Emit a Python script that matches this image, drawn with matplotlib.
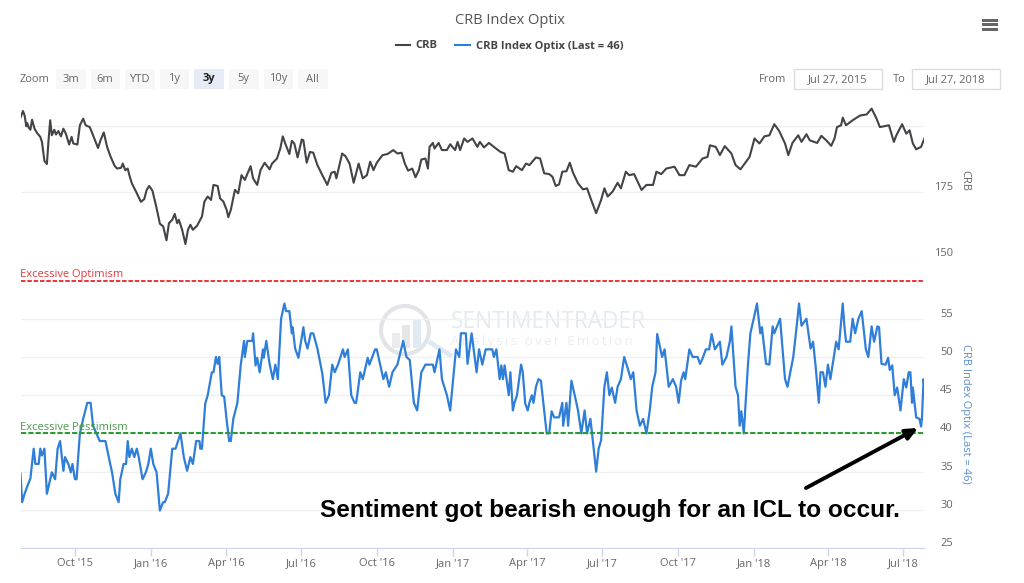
import numpy as np
import matplotlib
matplotlib.use('Agg')
import matplotlib.pyplot as plt
import matplotlib.dates as mdates
from matplotlib.patches import Rectangle, Circle
from matplotlib.transforms import ScaledTranslation
plt.rcParams["font.family"] = ["Open Sans", "DejaVu Sans"]

# days since the first date of the chart
start_date = np.datetime64('2015-07-27')

crb_days = [0, 3, 5, 7, 8, 10, 12, 14, 17, 20, 24, 26, 29, 32, 34, 36, 38, 41, 43, 46, 49, 52, 55, 59, 62, 64, 69, 72, 76, 79,
            84, 88, 94, 97, 101, 105, 109, 114, 117, 122, 124, 127, 130, 132, 135, 140, 146, 150, 153, 156, 160, 165, 169, 173, 177, 180, 184, 187, 190, 192,
            196, 200, 203, 206, 209, 214, 220, 223, 227, 231, 234, 239, 242, 246, 250, 252, 255, 260, 264, 268, 272, 279, 282, 287, 291, 296, 302, 305, 311, 315,
            318, 321, 326, 329, 332, 336, 341, 343, 347, 351, 355, 360, 366, 372, 377, 381, 383, 390, 394, 399, 404, 410, 415, 420, 424, 428, 432, 439, 445, 452,
            457, 462, 466, 470, 475, 479, 483, 486, 491, 494, 496, 500, 502, 507, 511, 517, 521, 527, 530, 533, 538, 542, 548, 554, 557, 562, 568, 574, 582, 587,
            592, 597,
            601, 608, 613, 617, 625, 630, 635, 641, 645, 649, 653, 657, 662, 666, 670, 676, 682, 687, 692, 698, 704, 708, 712, 718, 724, 728, 734, 738, 744, 753,
            759, 767, 771, 777, 783, 793, 799, 805, 811, 819, 827, 833, 836, 843, 848, 854, 862, 867, 873, 884, 890, 896, 902, 908, 914, 920, 927, 931, 936, 943,
            947, 953, 957, 966, 971, 977, 983, 987, 990, 995, 997, 1001, 1009, 1018, 1026, 1032, 1038, 1042, 1053, 1059, 1062, 1069, 1074, 1078, 1082, 1086, 1092, 1096]
crb_vals = [203.3, 205.8, 204.1, 200, 201.3, 199.5, 198.7, 202.5, 199.1, 197.5, 196, 194.1, 186.9, 185.7, 194.7, 202.3, 196.6, 198.7, 196.9, 198.2, 196.2, 199.1, 197.2, 193.1, 196, 193.5, 193.1, 200.4, 202.9, 200.4,
            199.7, 196.6, 191.8, 194.7, 197.7, 192.2, 188.7, 185.1, 184, 184.3, 185.9, 183.4, 184, 181.5, 178.4, 175.3, 171.4, 172.4, 175.9, 177.4, 175.6, 169, 163.1, 162.1, 156.8, 163.3, 164.6, 166.8, 163.3, 164.6,
            160.8, 155.4, 160.8, 162.7, 160.8, 162.3, 165.8, 171.5, 173.4, 172.1, 177.8, 177.4, 172.7, 171.5, 168.3, 165.6, 168.3, 175.9, 174.6, 181.5, 179.7, 184.9, 180.3, 177.8, 183.4, 186.2, 183.7, 185.9, 187.8, 191.6,
            196.2, 193.5, 189.5, 194.5, 193.5, 188.2, 195, 194.7, 186.2, 190.3, 190, 185.3, 181.5, 177.8, 182.4, 182.8, 180.3, 189.7, 188.7, 185.9, 178.6, 185.9, 180.3, 181.5, 186.6, 183.4, 186.2, 189.1, 189.5, 191,
            189.7, 190, 185.9, 183.2, 184, 180.7, 183.4, 187.4, 187.8, 184, 192.2, 193.7, 191.6, 193.7, 191, 191, 193.2, 191, 194.1, 191, 195.4, 194.1, 195.4, 192.2, 194.1, 192, 193.7, 192.2, 190.3, 189.7,
            183.4, 182.8,
            184.9, 183.4, 185.9, 185.3, 188.2, 187.8, 182.2, 181.9, 180.9, 177.4, 178, 182.8, 183, 186.2, 182.4, 178.4, 176.1, 176.5, 172.1, 167.1, 172.1, 176.5, 173.4, 175.3, 178.6, 176.5, 182.8, 181.5, 181.9, 175.9,
            177.8, 177.8, 182.8, 181.9, 184, 184.7, 181.5, 181.5, 185.3, 184.7, 187.8, 188.4, 192.8, 192.2, 189.1, 192.5, 189.7, 185.3, 183.7, 188.4, 195.4, 193.5, 196.2, 196.6, 200.8, 198.2, 193.5, 189.1, 193.7, 196.6,
            194.1, 197, 194.7, 193.7, 196.4, 194.7, 192.6, 195.4, 199.7, 200.4, 203.3, 200.4, 202.3, 204.1, 204.5, 206.7, 202.9, 199.7, 200.4, 194.1, 196.6, 200.8, 197.2, 198.5, 193.5, 191.3, 192.2, 195.4]

optix_days = [0, 2, 5, 8, 12, 16, 18, 22, 24, 26, 29, 32, 34, 36, 38, 42, 45, 48, 52, 54, 58, 61, 63, 66, 68, 72, 76, 81, 85, 88,
              96, 103, 107, 111, 115, 119, 121, 125, 128, 130, 132, 135, 138, 141, 143, 148, 152, 155, 158, 161, 165, 169, 173, 175, 179, 184, 188, 194, 198, 202,
              206, 209, 213, 217, 218, 220, 224, 227, 232, 234, 237, 239, 241, 244, 247, 250, 253, 255, 258, 263, 267, 271, 272, 275, 281, 282, 285, 287, 290, 294,
              295, 298, 302, 306, 309, 312, 316, 320, 322, 326, 329, 330, 333, 337, 343, 345, 348, 352, 355, 360, 366, 370, 374, 378, 381, 385, 388, 391, 393, 397,
              401, 405, 407, 412, 415, 421, 423, 430, 432, 440, 443, 447, 451, 457, 464, 468, 472, 477, 481, 483, 486, 491, 500, 502, 508, 511, 517, 521, 528, 532,
              534, 540, 542, 547, 553, 556, 560, 564, 572, 574, 577, 581, 583, 585, 587, 592, 594, 597,
              599, 602, 607, 609, 612, 615, 617, 620, 622, 625, 628, 631, 635, 638, 641, 644, 647, 653, 657, 658, 662, 664, 668, 672, 676, 680, 684, 687, 691, 693,
              698, 701, 704, 708, 711, 714, 717, 721, 724, 728, 732, 736, 740, 743, 747, 751, 755, 759, 763, 766, 770, 772, 778, 781, 786, 791, 795, 798, 801, 804,
              806, 811, 815, 821, 824, 827, 831, 835, 838, 842, 848, 851, 856, 860, 862, 867, 870, 872, 874, 877, 882, 885, 889, 893, 897, 899, 904, 908, 912, 914,
              917, 921, 927, 930, 937, 941, 944, 947, 953, 958, 961, 964, 968, 970, 973, 976, 979, 982, 989, 992, 997, 999, 1001, 1006, 1009, 1012, 1016, 1020, 1025, 1028,
              1032, 1035, 1039, 1041, 1044, 1049, 1052, 1054, 1057, 1060, 1063, 1067, 1071, 1074, 1077, 1079, 1081, 1082, 1086, 1090, 1092, 1093, 1095, 1096]
optix_vals = [34.7, 31, 32.1, 33, 34.1, 38, 36, 36, 38, 37.1, 38, 32.1, 33, 34, 34.9, 34, 38, 39, 35.1, 36.9, 36, 34.9, 36, 34, 34, 40, 41.9, 44, 44, 41,
              39, 39, 36.9, 34.9, 32.1, 31, 34, 36, 36, 39, 36.9, 38, 36.9, 38, 37.1, 34, 34.9, 36, 38, 36, 34.9, 29.9, 31, 31, 32.1, 38, 38, 40, 36.9, 35.1,
              36.9, 36, 39, 39, 38, 38, 43.9, 45, 48, 48, 50, 49.1, 50, 45, 44.8, 41.7, 39, 39, 41.9, 44, 48.9, 52.1, 50, 52.1, 52.1, 53.1, 48.9, 49.9, 48, 51,
              49.9, 52.1, 49.1, 47.1, 49, 47.1, 55, 57, 56, 56, 53.1, 53.9, 51.1, 49.9, 53.9, 52.2, 51.1, 53.1, 53.1, 51.1, 47.8, 44, 45, 49, 48, 49, 50, 51, 50, 51,
              45, 44, 44, 48, 47.1, 49.9, 49, 51, 51, 47.1, 48, 46.1, 48, 49, 52.1, 50, 49.6, 44, 43, 45, 48, 49, 49, 48, 51, 47.1, 45, 43, 51, 50,
              53.1, 53.1, 49.1, 53.1, 48, 51, 49, 51, 51, 50, 51, 47.1, 48.9, 47.1, 48.9, 45, 48, 43,
              44, 45, 49, 48, 43.9, 43, 44, 45, 44, 46.1, 47.1, 46.9, 43, 40, 40, 42.9, 42.1, 42.1, 44, 41, 44, 41, 46.9, 45, 43, 40, 43, 40, 41.9, 40,
              35, 38, 39.1, 46.1, 48, 45, 46, 44, 46.1, 47.1, 50, 48.6, 47.1, 48, 43, 41, 41.9, 40, 43, 46.1, 48, 53, 50, 51, 46.1, 47.1, 46.1, 44, 46.9, 48,
              47.1, 51, 50, 50, 49.1, 49.8, 51, 51, 53, 51, 52, 49, 50, 52, 54, 46.1, 45, 41, 42.9, 40, 48.9, 53.1, 55, 57, 53.1, 53.9, 49.1, 49, 54, 53.1,
              53.9, 55, 47.1, 46.1, 50, 53.9, 57, 54.1, 55, 51.1, 52, 48.9, 44, 48, 48, 46.1, 49, 47.1, 52, 51, 57, 54, 52, 52, 55, 53.1, 55, 56, 51, 50,
              54, 52, 54, 53.9, 49.1, 49, 49.9, 48.3, 48.9, 45, 46, 43, 47.1, 46, 48, 48, 44, 46, 42.1, 41.9, 40.9, 41.9, 47.1, 46.1]

tick_dates = ['2015-10-01', '2016-01-01', '2016-04-01', '2016-07-01', '2016-10-01', '2017-01-01',
              '2017-04-01', '2017-07-01', '2017-10-01', '2018-01-01', '2018-04-01', '2018-07-01']
crb_ticks = [150, 175, 200]
crb_tick_labels = ['150', '175', '']
optix_ticks = [25, 30, 35, 40, 45, 50, 55]
zoom_buttons = ['3m', '6m', 'YTD', '1y', '3y', '5y', '10y', 'All']
optimism_level = 60
pessimism_level = 40

W, H = 1024, 583
TEXT = '#666666'
GRID = '#f0f0f0'
AXIS = '#ccd6eb'
DARK = '#434348'
BLUE = '#2f7ed8'


def px_axes(fig, left, top, right, bottom):
    return fig.add_axes([left/W, 1-bottom/H, (right-left)/W, (bottom-top)/H])


def to_dates(days):
    return start_date + np.array(days).astype('timedelta64[D]')


def style_right_axis(fig, ax, ticks, labels=None):
    ax.set_yticks(ticks)
    if labels is not None:
        ax.set_yticklabels(labels)
    ax.yaxis.tick_right()
    ax.tick_params(axis='y', length=0, pad=20.6, labelsize=8, labelcolor=TEXT)
    down = ScaledTranslation(0, -1/100, fig.dpi_scale_trans)
    for lab in ax.get_yticklabels():
        lab.set_ha('right')
        lab.set_va('bottom')
        lab.set_transform(lab.get_transform() + down)
    ax.grid(axis='y', color=GRID, lw=1)
    ax.set_axisbelow(True)
    ax.patch.set_alpha(0)
    for s in ax.spines.values():
        s.set_visible(False)


def draw_chrome(ax):
    ax.text(510, 21, 'CRB Index Optix', ha='center', va='center', fontsize=10.5, color='#555555')
    ax.plot([396, 410], [45, 45], color=DARK, lw=1.5)
    ax.text(415, 46, 'CRB', va='center', fontsize=8, weight='bold', color='#444444')
    ax.plot([455, 470], [45, 45], color=BLUE, lw=1.5)
    ax.text(476, 46, 'CRB Index Optix (Last = 46)', va='center', fontsize=8, weight='bold', color='#444444')

    ax.text(20, 79.5, 'Zoom', va='center', fontsize=8, color=TEXT)
    for i, name in enumerate(zoom_buttons):
        x0 = 56 + i*34.6
        active = name == '3y'
        ax.add_patch(Rectangle((x0, 69), 29.5, 20, fc='#e6ebf5' if active else '#f7f7f7', ec='none'))
        ax.text(x0+14.5, 79, name, ha='center', va='center', fontsize=8,
                color='#222222' if active else TEXT, weight='bold' if active else 'normal')

    ax.text(759, 79, 'From', va='center', fontsize=8, color=TEXT)
    ax.add_patch(Rectangle((794, 69), 88, 20, fc='white', ec='#dddddd', lw=1))
    ax.text(838, 79.5, 'Jul 27, 2015', ha='center', va='center', fontsize=8, color=TEXT)
    ax.text(893, 79, 'To', va='center', fontsize=8, color=TEXT)
    ax.add_patch(Rectangle((912, 69), 88, 20, fc='white', ec='#dddddd', lw=1))
    ax.text(956, 79.5, 'Jul 27, 2018', ha='center', va='center', fontsize=8, color=TEXT)

    for y in [18.5, 23, 27.5]:
        ax.add_patch(Rectangle((982, y), 15.5, 3, fc='#666666', ec='none'))

    ax.text(965, 180, 'CRB', rotation=270, ha='center', va='center', fontsize=8, color=TEXT)
    ax.text(966, 414, 'CRB Index Optix (Last = 46)', rotation=270, ha='center', va='center', fontsize=8, color='#5b8fd0')

    # faded watermark behind the lines
    ax.add_patch(Circle((405, 330), 24, fc='none', ec='#e2e4e8', lw=3))
    ax.add_patch(Rectangle((392, 333), 8, 15, fc='#ebebeb', ec='none'))
    ax.add_patch(Rectangle((402, 325), 8, 23, fc='#e6e6e6', ec='none'))
    ax.add_patch(Rectangle((413, 320), 8, 28, fc='#dfeaf3', ec='none'))
    ax.plot([431, 450], [343, 355], color='#dfe9f2', lw=3.5)
    ax.text(451, 322, 'SENTIMENTRADER', va='center', fontsize=16.3, color='#e3eaf1')
    # thin spaces stand in for the wide letter spacing
    ax.text(451, 341, '\u2009'.join('Analysis over Emotion'), va='center', fontsize=9.5, color='#e9edf1')


def main():
    fig = plt.figure(figsize=(W/100, H/100), dpi=100, facecolor='white')

    chrome = fig.add_axes([0, 0, 1, 1], zorder=0)
    chrome.set_xlim(0, W), chrome.set_ylim(H, 0)
    chrome.axis('off')
    draw_chrome(chrome)

    x0, x1 = start_date, start_date + np.timedelta64(1096, 'D')

    # upper panel: 25 points take 66 px
    ax_crb = px_axes(fig, 20.5, 105.2, 924.4, 258.3)
    ax_crb.set_zorder(1)
    ax_crb.plot(to_dates(crb_days), crb_vals, color=DARK, lw=1.5)
    ax_crb.set_xlim(x0, x1), ax_crb.set_ylim(150, 208)
    ax_crb.set_xticks([])
    style_right_axis(fig, ax_crb, crb_ticks, crb_tick_labels)

    # lower panel: 5 points take 38.2 px
    ax_opt = px_axes(fig, 20.5, 265.3, 924.4, 548)
    ax_opt.set_zorder(1)
    ax_opt.plot(to_dates(optix_days), optix_vals, color=BLUE, lw=1.6)
    ax_opt.set_xlim(x0, x1), ax_opt.set_ylim(25, 62)
    style_right_axis(fig, ax_opt, optix_ticks)
    ax_opt.spines['bottom'].set_visible(True)
    ax_opt.spines['bottom'].set_color(AXIS)
    ax_opt.set_xticks(np.array(tick_dates, dtype='datetime64[D]'))
    ax_opt.xaxis.set_major_formatter(mdates.DateFormatter("%b '%y"))
    ax_opt.tick_params(axis='x', length=5.8, width=1, color=AXIS, labelsize=8, labelcolor=TEXT, pad=1.5)

    ax_opt.axhline(optimism_level, color='#e8262c', lw=1.3, ls=(0, (2.5, 1)))
    ax_opt.axhline(pessimism_level, color='#2e9a34', lw=1.5, ls=(0, (2.5, 1)))
    ax_opt.annotate('Excessive Optimism', (x0, optimism_level), xytext=(0, 0.3), textcoords='offset points',
                    fontsize=8, color='#e0393e', va='bottom')
    ax_opt.annotate('Excessive Pessimism', (x0, pessimism_level), xytext=(0, 0.6), textcoords='offset points',
                    fontsize=8, color='#4c9a50', va='bottom')

    # the text and arrow someone pasted on top
    over = fig.add_axes([0, 0, 1, 1], zorder=5)
    over.set_xlim(0, W), over.set_ylim(H, 0)
    over.axis('off')
    over.text(320, 510, 'Sentiment got bearish enough for an ICL to occur.', va='center',
              family='Liberation Sans', weight='bold', fontsize=17.55, color='black')
    over.annotate('', xy=(918, 428), xytext=(806, 488),
                  arrowprops=dict(arrowstyle='-|>,head_width=0.32,head_length=0.7', color='black', lw=2.8, shrinkA=0, shrinkB=0))

    fig.savefig('out.png', dpi=100)


if __name__ == '__main__':
    main()
